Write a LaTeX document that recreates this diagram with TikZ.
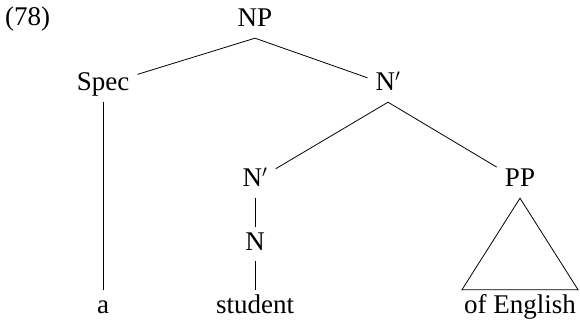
\documentclass[tikz,border=0pt]{standalone}
\usepackage{fontspec}
\setmainfont{Liberation Serif}
\usetikzlibrary{positioning}

\begin{document}
\begin{tikzpicture}[
  x=1pt, y=-1pt,
  font=\fontsize{27}{32}\selectfont,
  cat/.style={anchor=base, inner xsep=8pt, inner ysep=5pt, text height=18pt, text depth=6pt},
  branch/.style={line width=0.8pt}
]
  \useasboundingbox (0,0) rectangle (580,320);
  \node[anchor=base west, inner sep=0pt] (num) at (5,26) {(78)};
  % categories
  \node[cat] (np) at (255,27) {NP};
  \node[cat] (spec) at (103,91) {Spec};
  \node[cat] (nbar) at (388,91) {N$'$};
  \node[cat] (nbarlow) at (255,187) {N$'$};
  \node[cat] (pp) at (520,187) {PP};
  \node[cat] (n) at (255,250) {N};
  % words
  \node[cat] (det) at (103,313) {a};
  \node[cat] (noun) at (255,313) {student};
  \node[cat, inner xsep=2pt] (ofeng) at (520,313) {of English};

  \draw[branch] (np.south) -- (spec);
  \draw[branch] (np.south) -- (nbar);
  \draw[branch] (spec.south) -- (det);
  \draw[branch] (nbar.south) -- (nbarlow);
  \draw[branch] (nbar.south) -- (pp);
  \draw[branch] (nbarlow.south) -- (n);
  \draw[branch] (n.south) -- (noun);
  \draw[branch] (pp.south) -- (ofeng.north west) -- (ofeng.north east) -- cycle;
\end{tikzpicture}
\end{document}
